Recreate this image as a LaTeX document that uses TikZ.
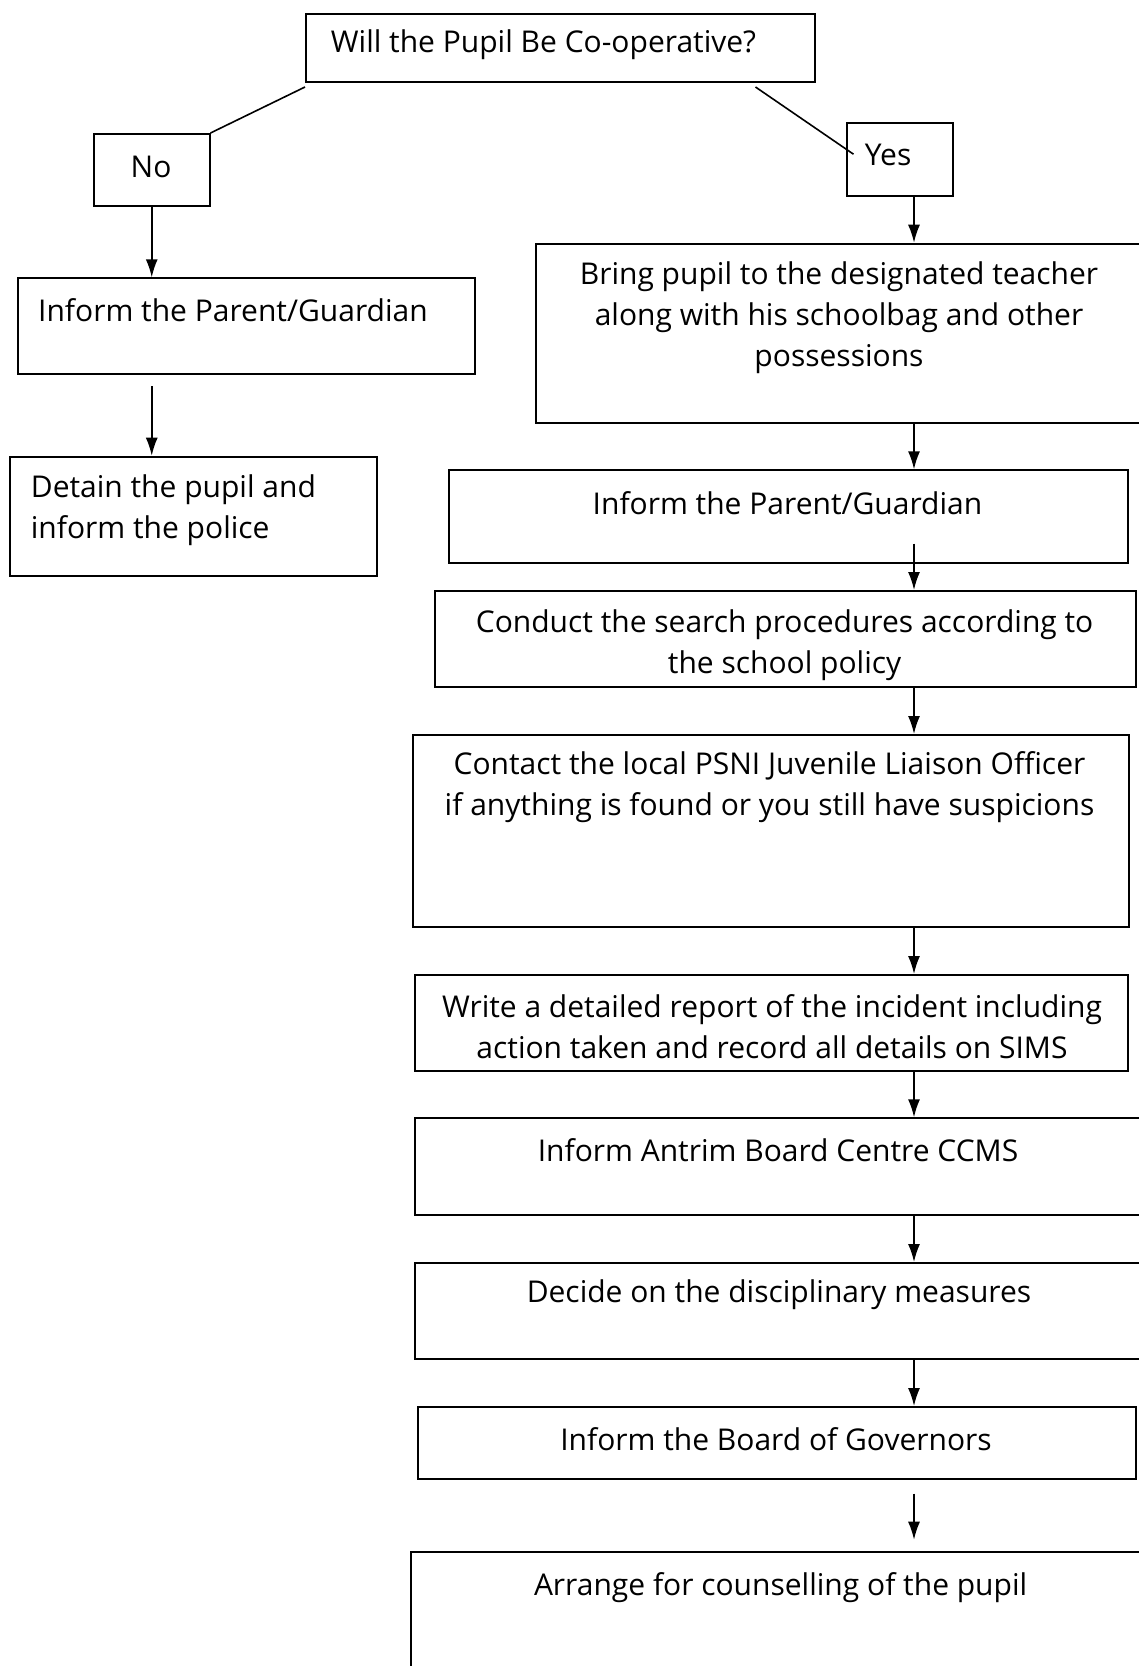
\documentclass[tikz,border=0pt]{standalone}
\usepackage{fontspec}
\setmainfont{Open Sans}
\usetikzlibrary{arrows.meta}

\begin{document}
\begin{tikzpicture}[x = 0.5pt, y = -0.5pt, > = {Latex[length = 9pt, width = 6pt]},
	box/.style = {draw, line width = 1pt, inner sep = 0pt, anchor = north west},
	txt/.style = {font = \fontsize{15}{20.5}\selectfont, align = center, inner sep = 0pt},
	link/.style = {line width = 0.8pt}]

	\clip (0, 0) rectangle (1139, 1666);
	\coordinate (spine) at (914, 0);

	% Question and the two answers

	\node [box, minimum width = 254.3pt, minimum height = 33.85pt] (question) at (305, 13.3) {};
	\node [txt, anchor = west] (question-label) at (330.5, 45) {Will the Pupil Be Co-operative?};

	\node [box, minimum width = 57.75pt, minimum height = 36pt] (no) at (93, 133) {};
	\node [txt] (no-label) at (151, 167) {No};

	\node [box, minimum width = 52.8pt, minimum height = 36.65pt] (yes) at (846, 121.7) {};
	\node [txt, anchor = west] (yes-label) at (864.5, 155) {Yes};

	\draw [link] ([yshift = -2pt] question.south west) -- (no.north east);
	\draw [link] ([shift = {(450.5, 4)}] question.south west) -- ([shift = {(7.5, 32.5)}] yes.north west);

	% Not co-operative

	\node [box, minimum width = 228.65pt, minimum height = 48pt] (parent-no) at (16.7, 277.3) {};
	\node [txt, anchor = west] (parent-no-label) at (37.8, 310) {Inform the Parent/Guardian};

	\node [box, minimum width = 183.45pt, minimum height = 59.8pt] (detain) at (8.7, 455.7) {};
	\node [txt, anchor = west, align = left] (detain-label) at (30.5, 510) {Detain the pupil and\\inform the police};

	\draw [link, ->] (no.south) -- (no.south |- parent-no.north);
	\draw [link, ->, shorten < = 5.4pt] (no.south |- parent-no.south) -- (no.south |- detain.north);

	% Co-operative

	\node [box, minimum width = 303.8pt, minimum height = 89.5pt] (bring) at (535.4, 242.7) {};
	\node [txt] (bring-label) at (839, 318) {Bring pupil to the designated teacher\\along with his schoolbag and other\\possessions};

	\node [box, minimum width = 339.95pt, minimum height = 46.2pt] (parent-yes) at (447.5, 469.3) {};
	\node [txt] (parent-yes-label) at (787.5, 503.3) {Inform the Parent/Guardian};

	\node [box, minimum width = 350.6pt, minimum height = 48pt] (search) at (434, 590) {};
	\node [txt] (search-label) at (784.6, 645) {Conduct the search procedures according to\\the school policy};

	\node [box, minimum width = 358.1pt, minimum height = 96pt] (psni) at (411.8, 734) {};
	\node [txt] (psni-label) at (769.5, 787) {Contact the local PSNI Juvenile Liaison Officer\\if anything is found or you still have suspicions};

	\node [box, minimum width = 356.5pt, minimum height = 48pt] (report) at (414, 974) {};
	\node [txt] (report-label) at (772, 1027) {Write a detailed report of the incident including\\action taken and record all details on SIMS};

	\node [box, minimum width = 364pt, minimum height = 48.35pt] (ccms) at (414, 1117.3) {};
	\node [txt] (ccms-label) at (778, 1150.5) {Inform Antrim Board Centre CCMS};

	\node [box, minimum width = 365pt, minimum height = 48pt] (measures) at (414, 1262) {};
	\node [txt] (measures-label) at (779, 1295) {Decide on the disciplinary measures};

	\node [box, minimum width = 358.9pt, minimum height = 36pt] (governors) at (417.4, 1406) {};
	\node [txt] (governors-label) at (776, 1439.4) {Inform the Board of Governors};

	\node [box, minimum width = 370.3pt, minimum height = 74.5pt] (counselling) at (410.4, 1551) {};
	\node [txt] (counselling-label) at (780.6, 1587.4) {Arrange for counselling of the pupil};

	\draw [link, ->] (yes.south -| spine) -- (bring.north -| spine);
	\draw [link, ->] (bring.south -| spine) -- (parent-yes.north -| spine);
	\draw [link, ->, shorten < = -10pt] (parent-yes.south -| spine) -- (search.north -| spine);
	\draw [link, ->] (search.south -| spine) -- (psni.north -| spine);
	\draw [link, ->] (psni.south -| spine) -- (report.north -| spine);
	\draw [link, ->] (report.south -| spine) -- (ccms.north -| spine);
	\draw [link, ->] (ccms.south -| spine) -- (measures.north -| spine);
	\draw [link, ->] (measures.south -| spine) -- (governors.north -| spine);
	\draw [link, ->, shorten < = 6.85pt, shorten > = 5.65pt] (governors.south -| spine) -- (counselling.north -| spine);

\end{tikzpicture}
\end{document}
